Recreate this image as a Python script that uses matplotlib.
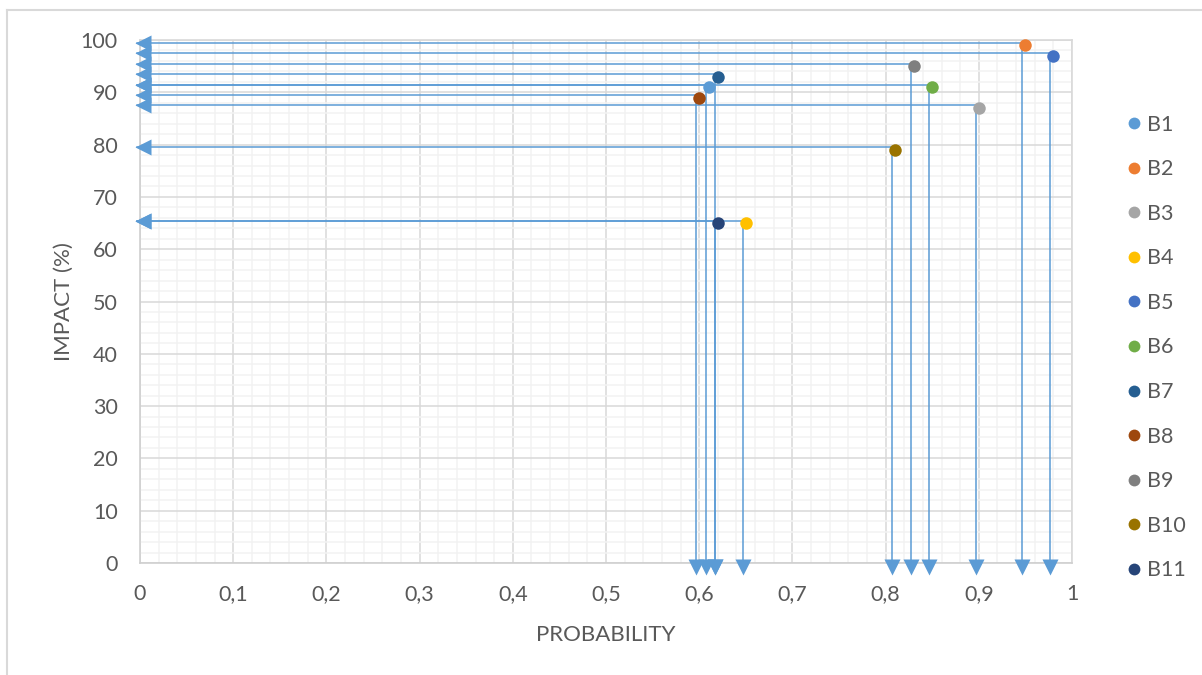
import matplotlib
matplotlib.use("Agg")
import matplotlib.pyplot as plt
from matplotlib.transforms import offset_copy
from matplotlib.ticker import MultipleLocator, FuncFormatter
from matplotlib.lines import Line2D

plt.rcParams['font.family'] = ['Lato', 'DejaVu Sans']

names = ["B1", "B2", "B3", "B4", "B5", "B6", "B7", "B8", "B9", "B10", "B11"]
probability = [0.61, 0.95, 0.90, 0.65, 0.98, 0.85, 0.62, 0.60, 0.83, 0.81, 0.62]
impact = [91, 99, 87, 65, 97, 91, 93, 89, 95, 79, 65]
colors = ["#5B9BD5", "#ED7D31", "#A5A5A5", "#FFC000", "#4472C4", "#70AD47",
          "#255E91", "#9E480E", "#7F7F7F", "#997300", "#264478"]

x_ticks = [0, 0.1, 0.2, 0.3, 0.4, 0.5, 0.6, 0.7, 0.8, 0.9, 1]
y_ticks = [0, 10, 20, 30, 40, 50, 60, 70, 80, 90, 100]

W, H, DPI = 1202, 675, 100
fig = plt.figure(figsize=(W / DPI, H / DPI), dpi=DPI)
ax = fig.add_axes([140 / W, 1 - 563 / H, (1072 - 140) / W, (563 - 40) / H])

# outer chart border (top and left visible)
fig.add_artist(Line2D([7 / W, 1.01], [1 - 10 / H, 1 - 10 / H], transform=fig.transFigure,
                      color="#D9D9D9", lw=1.5))
fig.add_artist(Line2D([7 / W, 7 / W], [-0.01, 1 - 10 / H], transform=fig.transFigure,
                      color="#D9D9D9", lw=1.5))

ax.set_xlim(0, 1)
ax.set_ylim(0, 100)
ax.xaxis.set_minor_locator(MultipleLocator(0.02))
ax.yaxis.set_minor_locator(MultipleLocator(2))
ax.set_xticks(x_ticks)
ax.set_yticks(y_ticks)
ax.xaxis.set_major_formatter(FuncFormatter(lambda v, p: ("%g" % round(v, 2)).replace(".", ",")))
ax.yaxis.set_major_formatter(FuncFormatter(lambda v, p: "%d" % v))
ax.grid(which="major", color="#D9D9D9", lw=1.1, zorder=0)
ax.grid(which="minor", color="#F2F2F2", lw=1.1, zorder=0)
ax.set_axisbelow(True)
ax.tick_params(which="both", length=0, labelsize=15.5, labelcolor="#595959")
ax.tick_params(axis="x", pad=15)
ax.tick_params(axis="y", pad=16)
for s in ax.spines.values():
    s.set_color("#D9D9D9")
    s.set_linewidth(1.2)
ax.spines["left"].set_color("#CFCFCF")
ax.spines["bottom"].set_color("#CFCFCF")

ax.set_xlabel("PROBABILITY", fontsize=16, color="#595959", labelpad=15)
ax.set_ylabel("IMPACT (%)", fontsize=16, color="#595959", labelpad=5)

line_tr = offset_copy(ax.transData, fig=fig, x=-3, y=2.5, units="dots")
left_tr = offset_copy(ax.transData, fig=fig, x=2.5, y=2.5, units="dots")
down_tr = offset_copy(ax.transData, fig=fig, x=-3, y=-3.5, units="dots")

err_color = "#5B9BD5"
for xv, yv in zip(probability, impact):
    ax.plot([0, xv], [yv, yv], color=err_color, lw=1.1, transform=line_tr, zorder=3, clip_on=False)
    ax.plot([xv, xv], [0, yv], color=err_color, lw=1.1, transform=line_tr, zorder=3, clip_on=False)
    ax.plot([0], [yv], marker="<", ms=11, color=err_color, mec="none", transform=left_tr,
            zorder=4, clip_on=False)
    ax.plot([xv], [0], marker="v", ms=11, color=err_color, mec="none", transform=down_tr,
            zorder=4, clip_on=False)

for n, xv, yv, c in zip(names, probability, impact, colors):
    ax.plot([xv], [yv], "o", ms=9, color=c, mec="none", label=n, zorder=5, clip_on=False)

leg = fig.legend(loc="center left", bbox_to_anchor=(1117 / W, 1 - 347.5 / H), frameon=False,
                 fontsize=15.5, labelcolor="#595959", labelspacing=1.14, handlelength=0.6,
                 handletextpad=0.3, borderpad=0)
for h in leg.legend_handles:
    h.set_markersize(8.5)

fig.savefig("out.png", dpi=DPI)
